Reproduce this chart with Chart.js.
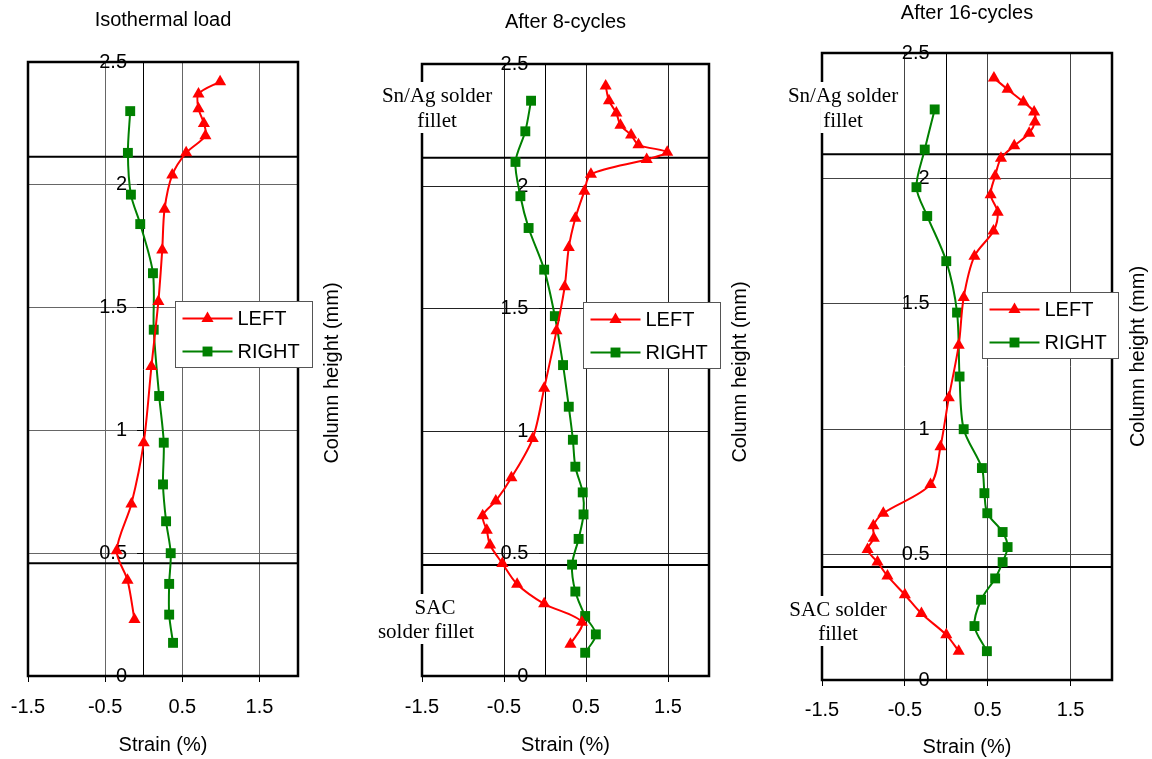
<!DOCTYPE html>
<html>
<head>
<meta charset="utf-8">
<script src="https://cdn.jsdelivr.net/npm/chart.js@4.4.1/dist/chart.umd.min.js"></script>
<style>
  body { margin: 0; background: #fff; width: 1152px; height: 759px; position: relative; overflow: hidden; }
  canvas { position: absolute; top: 0; }
</style>
</head>
<body>
<canvas id="panel1" width="353" height="759" style="left:-3px"></canvas>
<canvas id="panel2" width="410" height="759" style="left:350px"></canvas>
<canvas id="panel3" width="392" height="759" style="left:760px"></canvas>
<script>
// ---- data ----
var strainTicks = [-1.5, -0.5, 0.5, 1.5];
var heightTicks = [0, 0.5, 1, 1.5, 2, 2.5];
var panelTitles = ["Isothermal load", "After 8-cycles", "After 16-cycles"];
var seriesNames = ["LEFT", "RIGHT"];

// isothermal load
var isoLeftStrain = [0.99, 0.71, 0.71, 0.78, 0.80, 0.55, 0.37, 0.27, 0.24, 0.19, 0.10, 0.00, -0.16, -0.35, -0.21, -0.12];
var isoLeftHeight = [2.42, 2.37, 2.31, 2.25, 2.20, 2.13, 2.04, 1.90, 1.735, 1.525, 1.26, 0.95, 0.70, 0.51, 0.39, 0.23];
var isoRightStrain = [-0.175, -0.205, -0.166, -0.045, 0.12, 0.13, 0.20, 0.26, 0.25, 0.29, 0.35, 0.33, 0.33, 0.38];
var isoRightHeight = [2.30, 2.13, 1.96, 1.84, 1.64, 1.41, 1.14, 0.95, 0.78, 0.63, 0.50, 0.375, 0.25, 0.135];

// after 8 cycles
var c8LeftStrain = [0.74, 0.78, 0.87, 0.92, 1.05, 1.14, 1.49, 1.24, 0.56, 0.48, 0.37, 0.29, 0.24, 0.14, -0.01, -0.15, -0.41, -0.60, -0.76, -0.71, -0.67, -0.52, -0.34, -0.01, 0.45, 0.31];
var c8LeftHeight = [2.41, 2.35, 2.30, 2.25, 2.21, 2.17, 2.14, 2.11, 2.05, 1.98, 1.87, 1.75, 1.59, 1.41, 1.175, 0.97, 0.81, 0.715, 0.655, 0.595, 0.535, 0.46, 0.375, 0.295, 0.22, 0.13];
var c8RightStrain = [-0.17, -0.24, -0.36, -0.30, -0.20, -0.01, 0.12, 0.22, 0.29, 0.34, 0.37, 0.46, 0.47, 0.41, 0.33, 0.37, 0.49, 0.62, 0.49];
var c8RightHeight = [2.35, 2.225, 2.10, 1.96, 1.83, 1.66, 1.47, 1.27, 1.10, 0.965, 0.855, 0.75, 0.66, 0.56, 0.455, 0.345, 0.245, 0.17, 0.095];

// after 16 cycles
var c16LeftStrain = [0.575, 0.74, 0.93, 1.06, 1.07, 1.00, 0.82, 0.66, 0.59, 0.535, 0.62, 0.57, 0.34, 0.21, 0.15, 0.03, -0.07, -0.19, -0.76, -0.88, -0.875, -0.95, -0.83, -0.71, -0.50, -0.30, 0.00, 0.15];
var c16LeftHeight = [2.40, 2.355, 2.305, 2.265, 2.225, 2.18, 2.13, 2.08, 2.01, 1.935, 1.865, 1.79, 1.69, 1.525, 1.335, 1.125, 0.93, 0.78, 0.665, 0.615, 0.565, 0.52, 0.47, 0.415, 0.34, 0.265, 0.18, 0.115];
var c16RightStrain = [-0.14, -0.26, -0.36, -0.23, 0.00, 0.13, 0.16, 0.21, 0.43, 0.46, 0.495, 0.68, 0.74, 0.68, 0.59, 0.42, 0.34, 0.49];
var c16RightHeight = [2.275, 2.115, 1.965, 1.85, 1.67, 1.465, 1.21, 1.00, 0.845, 0.745, 0.665, 0.59, 0.53, 0.47, 0.405, 0.32, 0.215, 0.115];

// solder fillet interfaces (column height, mm)
var isoInterfaces = [2.114, 0.459];
var c8Interfaces = [2.117, 0.453];
var c16Interfaces = [2.096, 0.451];

var SANS = "'Liberation Sans', Arial, sans-serif";
var SERIF = "'Liberation Serif', 'Times New Roman', serif";
Chart.defaults.font.family = SANS;
Chart.defaults.font.size = 20;
Chart.defaults.color = "#000";

function points(xs, ys) {
  return ys.map(function (h, i) { return { x: xs[i], y: h }; });
}

function drawMarker(ctx, style, x, y, r, color) {
  ctx.fillStyle = color;
  ctx.beginPath();
  if (style === "triangle") {
    ctx.moveTo(x, y - r);
    ctx.lineTo(x + r * 0.866, y + r * 0.5);
    ctx.lineTo(x - r * 0.866, y + r * 0.5);
    ctx.closePath();
  } else {
    var s = r * Math.SQRT1_2;
    ctx.rect(x - s, y - s, 2 * s, 2 * s);
  }
  ctx.fill();
}

// horizontal lines marking the solder fillet interfaces
var interfaceLines = {
  id: "interfaceLines",
  beforeDatasetsDraw: function (chart, args, o) {
    var ctx = chart.ctx, a = chart.chartArea, y = chart.scales.y;
    ctx.save();
    ctx.strokeStyle = "#000";
    ctx.lineWidth = 2;
    o.heights.forEach(function (h) {
      var py = y.getPixelForValue(h);
      ctx.beginPath();
      ctx.moveTo(a.left, py);
      ctx.lineTo(a.right, py);
      ctx.stroke();
    });
    ctx.restore();
  }
};

// heavy box round the plot area
var plotFrame = {
  id: "plotFrame",
  afterDatasetsDraw: function (chart) {
    var ctx = chart.ctx, a = chart.chartArea;
    ctx.save();
    ctx.strokeStyle = "#000";
    ctx.lineWidth = 2.5;
    ctx.strokeRect(a.left, a.top, a.right - a.left, a.bottom - a.top);
    ctx.restore();
  }
};

// serif notes with white background
var filletNotes = {
  id: "filletNotes",
  afterDraw: function (chart, args, o) {
    if (!o.notes) return;
    var ctx = chart.ctx, a = chart.chartArea;
    ctx.save();
    ctx.font = "21px " + SERIF;
    ctx.textAlign = "center";
    ctx.textBaseline = "middle";
    o.notes.forEach(function (n) {
      var cx = a.left + n.dx, cy = a.top + n.dy;
      var w = ctx.measureText(n.text).width + 6;
      ctx.fillStyle = "#fff";
      ctx.fillRect(cx - w / 2, cy - 13, w, 26);
      ctx.fillStyle = "#000";
      ctx.fillText(n.text, cx, cy + 1);
    });
    ctx.restore();
  }
};

// boxed legend sitting over the right edge of the plot
var boxLegend = {
  id: "boxLegend",
  afterDraw: function (chart, args, o) {
    var ctx = chart.ctx, a = chart.chartArea;
    var x = Math.round(a.left + o.dx) + 0.5, y = Math.round(a.top + o.dy) + 0.5;
    ctx.save();
    ctx.fillStyle = "#fff";
    ctx.fillRect(x, y, o.w, o.h);
    ctx.strokeStyle = "#555";
    ctx.lineWidth = 1;
    ctx.strokeRect(x, y, o.w, o.h);
    chart.data.datasets.forEach(function (ds, i) {
      var ry = y + 17 + i * 33;
      ctx.strokeStyle = ds.borderColor;
      ctx.lineWidth = 2;
      ctx.beginPath();
      ctx.moveTo(x + 7, ry);
      ctx.lineTo(x + 57, ry);
      ctx.stroke();
      drawMarker(ctx, ds.pointStyle, x + 32, ry, ds.pointRadius, ds.backgroundColor);
      ctx.fillStyle = "#000";
      ctx.font = "20px " + SANS;
      ctx.textAlign = "left";
      ctx.textBaseline = "middle";
      ctx.fillText(ds.label, x + 62, ry + 1);
    });
    ctx.restore();
  }
};

// "Column height (mm)" reads bottom-to-top on the right of each plot
var sideTitle = {
  id: "sideTitle",
  afterDraw: function (chart, args, o) {
    var ctx = chart.ctx, a = chart.chartArea;
    ctx.save();
    ctx.translate(a.right + o.dx, (a.top + a.bottom) / 2 + o.dy);
    ctx.rotate(-Math.PI / 2);
    ctx.font = "20px " + SANS;
    ctx.fillStyle = "#000";
    ctx.textAlign = "center";
    ctx.textBaseline = "middle";
    ctx.fillText(o.text, 0, 0);
    ctx.restore();
  }
};

function makePanel(id, p) {
  return new Chart(document.getElementById(id), {
    type: "scatter",
    data: {
      datasets: [
        {
          label: seriesNames[0],
          data: points(p.leftStrain, p.leftHeight),
          showLine: true,
          tension: 0.3,
          borderColor: "#ff0000",
          backgroundColor: "#ff0000",
          borderWidth: 2,
          pointStyle: "triangle",
          pointRadius: 7,
          pointBorderWidth: 0
        },
        {
          label: seriesNames[1],
          data: points(p.rightStrain, p.rightHeight),
          showLine: true,
          tension: 0.3,
          borderColor: "#008000",
          backgroundColor: "#008000",
          borderWidth: 2,
          pointStyle: "rect",
          pointRadius: 7,
          pointBorderWidth: 0
        }
      ]
    },
    options: {
      responsive: false,
      animation: false,
      layout: { padding: { left: p.padLeft, right: p.padRight, top: 0, bottom: p.padBottom } },
      scales: {
        x: {
          type: "linear",
          min: -1.5,
          max: 2,
          afterBuildTicks: function (s) { s.ticks = strainTicks.map(function (v) { return { value: v }; }); },
          grid: { color: p.gridColor, lineWidth: 1, tickLength: 6, tickColor: "#000" },
          border: { display: false },
          ticks: { padding: p.xTickPad, callback: function (v) { return String(v); } },
          title: { display: true, text: "Strain (%)", padding: { top: p.xTitleTop, bottom: 0 } }
        },
        y: {
          type: "linear",
          min: 0,
          max: 2.5,
          position: { x: 0 },
          afterBuildTicks: function (s) { s.ticks = heightTicks.map(function (v) { return { value: v }; }); },
          grid: { color: p.gridColor, lineWidth: 1, tickLength: 6, tickColor: "#000" },
          border: { display: true, color: "#000", width: 1 },
          // labels sit left of the axis at x = 0, kept clear of the tick mark
          ticks: { callback: function (v) { return String(v) + "   "; } }
        }
      },
      plugins: {
        legend: { display: false },
        tooltip: { enabled: false },
        title: {
          display: true,
          text: p.title,
          fullSize: false,
          font: { size: 20, weight: "normal" },
          color: "#000",
          padding: { top: p.titleTop, bottom: p.titleBottom }
        },
        interfaceLines: { heights: p.interfaces },
        filletNotes: { notes: p.notes },
        boxLegend: p.legend,
        sideTitle: { text: "Column height (mm)", dx: p.sideDx, dy: p.sideDy }
      }
    },
    plugins: [interfaceLines, plotFrame, filletNotes, boxLegend, sideTitle]
  });
}

makePanel("panel1", {
  title: panelTitles[0],
  leftStrain: isoLeftStrain, leftHeight: isoLeftHeight,
  rightStrain: isoRightStrain, rightHeight: isoRightHeight,
  interfaces: isoInterfaces,
  padLeft: 31, padRight: 52, padBottom: 2,
  titleTop: 8, titleBottom: 30,
  xTickPad: 13.5, xTitleTop: 0,
  gridColor: "#666",
  legend: { dx: 147, dy: 239, w: 137, h: 66 },
  sideDx: 34, sideDy: 4,
  notes: null
});

makePanel("panel2", {
  title: panelTitles[1],
  leftStrain: c8LeftStrain, leftHeight: c8LeftHeight,
  rightStrain: c8RightStrain, rightHeight: c8RightHeight,
  interfaces: c8Interfaces,
  padLeft: 72, padRight: 51, padBottom: 2,
  titleTop: 10, titleBottom: 30,
  xTickPad: 13.5, xTitleTop: 0,
  gridColor: "#222",
  legend: { dx: 161, dy: 238, w: 137, h: 66 },
  sideDx: 31, sideDy: 2,
  notes: [
    { text: "Sn/Ag solder", dx: 15, dy: 31 },
    { text: "fillet", dx: 15, dy: 56 },
    { text: "SAC", dx: 13, dy: 543 },
    { text: "solder fillet", dx: 4, dy: 567 }
  ]
});

makePanel("panel3", {
  title: panelTitles[2],
  leftStrain: c16LeftStrain, leftHeight: c16LeftHeight,
  rightStrain: c16RightStrain, rightHeight: c16RightHeight,
  interfaces: c16Interfaces,
  padLeft: 62, padRight: 40, padBottom: 0,
  titleTop: 1, titleBottom: 28,
  xTickPad: 12, xTitleTop: 1,
  gridColor: "#444",
  legend: { dx: 160, dy: 239, w: 136, h: 66 },
  sideDx: 26, sideDy: -10,
  notes: [
    { text: "Sn/Ag solder", dx: 21, dy: 42 },
    { text: "fillet", dx: 21, dy: 67 },
    { text: "SAC solder", dx: 16, dy: 556 },
    { text: "fillet", dx: 16, dy: 580 }
  ]
});
</script>
</body>
</html>
